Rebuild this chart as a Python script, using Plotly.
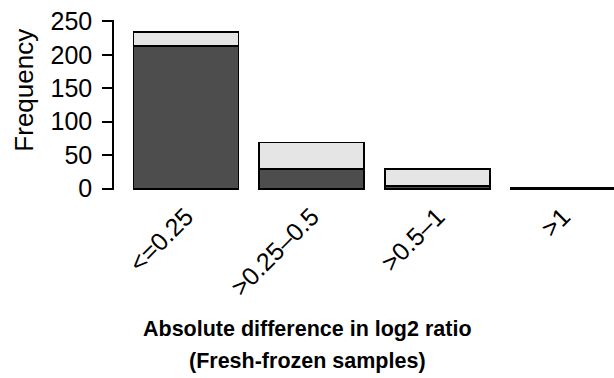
import plotly.graph_objects as go

# Frequency of absolute log2-ratio differences, split into two groups
categories = ["<=0.25", ">0.25\u20130.5", ">0.5\u20131", ">1"]
dark_counts = [213, 29, 4, 1]
light_counts = [21, 40, 25, 0]
y_ticks = [0, 50, 100, 150, 200, 250]

W, H = 614, 378
left, right = 114, 0
top, bottom = 20.4, 187.7

FONT = "Liberation Sans, Arial, Helvetica, sans-serif"
outline = dict(color="black", width=1.8)
bar_width = 0.835

fig = go.Figure()
fig.add_trace(go.Bar(x=categories, y=dark_counts, width=bar_width,
                     marker=dict(color="#4d4d4d", line=outline)))
fig.add_trace(go.Bar(x=categories, y=light_counts, width=bar_width,
                     marker=dict(color="#e5e5e5", line=outline)))

fig.update_layout(
    width=W, height=H,
    margin=dict(l=left, r=right, t=top, b=bottom, pad=0),
    barmode="stack",
    showlegend=False,
    plot_bgcolor="white", paper_bgcolor="white",
    font=dict(family=FONT, color="black"),
)

fig.update_xaxes(
    type="category",
    range=[-0.573, 3.405],
    showline=False, showgrid=False, zeroline=False,
    ticks="", tickangle=-45,
    tickfont=dict(size=25, family=FONT),
    ticklabelstandoff=6,
)
fig.update_yaxes(
    range=[-2, 252],
    tickvals=y_ticks,
    showline=True, linecolor="black", linewidth=1.5,
    showgrid=False, zeroline=False,
    ticks="outside", ticklen=10, tickwidth=1.5, tickcolor="black",
    tickfont=dict(size=25, family=FONT),
    ticklabelstandoff=5,
)

plot_h = H - top - bottom
plot_w = W - left - right

def px_to_paper_y(py):
    return (H - bottom - py) / plot_h

def px_to_paper_x(px):
    return (px - left) / plot_w

# rotated y-axis title
fig.add_annotation(
    text="Frequency", textangle=-90, showarrow=False,
    xref="paper", yref="paper",
    x=px_to_paper_x(24), y=px_to_paper_y(91),
    xanchor="center", yanchor="middle",
    font=dict(size=26, family=FONT),
)

# two-line x-axis title
for txt, py in [("Absolute difference in log2 ratio", 329),
                ("(Fresh-frozen samples)", 361)]:
    fig.add_annotation(
        text="<b>" + txt + "</b>", showarrow=False,
        xref="paper", yref="paper",
        x=px_to_paper_x(307), y=px_to_paper_y(py),
        xanchor="center", yanchor="middle",
        font=dict(size=21.5, family=FONT),
    )

fig.write_html("out.html")
